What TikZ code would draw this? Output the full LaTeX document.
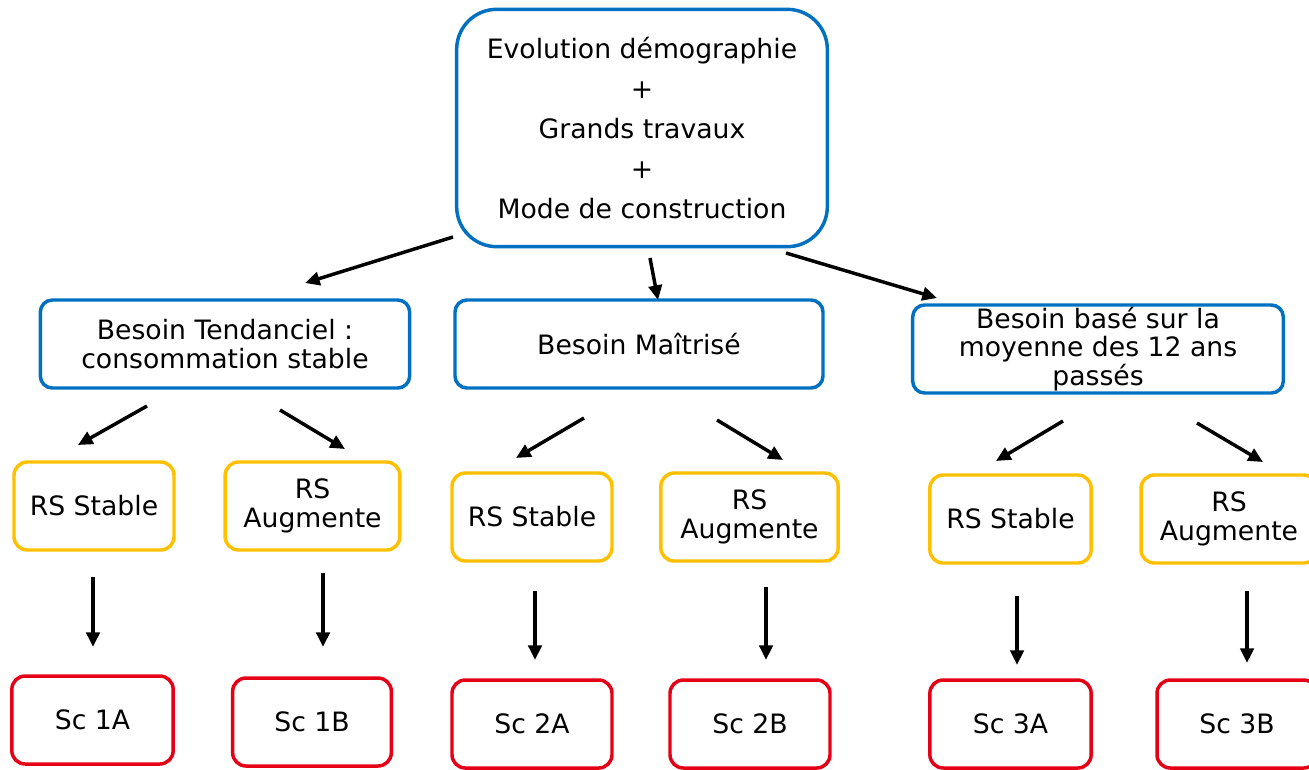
\documentclass[tikz,border=0pt]{standalone}
\usepackage{fontspec}
\setmainfont{DejaVu Sans}
\usetikzlibrary{positioning,calc,arrows.meta}
\definecolor{boxblue}{RGB}{0,112,192}
\definecolor{boxyellow}{RGB}{255,192,0}
\definecolor{boxred}{RGB}{230,0,22}
\tikzset{box/.style={draw, line width=2.6pt, rounded corners=10pt, align=center, inner sep=0pt, font=\fontsize{20}{21.5}\selectfont},
			topbox/.style={box, draw=boxblue, rounded corners=30pt, minimum width=278pt, minimum height=178pt, font=\fontsize{20}{30}\selectfont},
			needbox/.style={box, draw=boxblue, rounded corners=9pt, minimum width=277pt, minimum height=66pt},
			rsbox/.style={box, draw=boxyellow, minimum height=66pt},
			scbox/.style={box, draw=boxred, minimum height=66pt},
			arr/.style={-{Triangle[length=11pt,width=10pt]}, line width=2.6pt}}

\begin{document}
\begin{tikzpicture}[x=0.75pt, y=-0.75pt]

					\useasboundingbox (0,0) rectangle (1309,769);

					\node[topbox] (evo) at (642,128) {Evolution démographie\\+\\Grands travaux\\+\\Mode de construction};

					\node[needbox] (tend) at (225,344) {Besoin Tendanciel :\\consommation stable};
					\node[needbox, minimum width=276pt] (maitr) at (639,344) {Besoin Maîtrisé};
					\node[needbox, minimum width=278pt] (moy) at (1098,349) {Besoin basé sur la\\moyenne des 12 ans\\passés};

					\node[rsbox, minimum width=120pt] (rsa) at (94,506) {RS Stable};
					\node[rsbox, minimum width=131pt] (rsb) at (312.5,506) {RS\\Augmente};
					\node[rsbox, minimum width=120pt] (rsc) at (532,517) {RS Stable};
					\node[rsbox, minimum width=133pt] (rsd) at (749.5,517) {RS\\Augmente};
					\node[rsbox, minimum width=121pt] (rse) at (1010.5,519) {RS Stable};
					\node[rsbox, minimum width=132pt] (rsf) at (1229,519) {RS\\Augmente};

					\node[scbox, minimum width=121pt] (sca) at (92.5,720) {Sc 1A};
					\node[scbox, minimum width=119pt] (scb) at (312,722) {Sc 1B};
					\node[scbox, minimum width=120pt] (scc) at (532,724) {Sc 2A};
					\node[scbox, minimum width=120pt] (scd) at (750,724) {Sc 2B};
					\node[scbox, minimum width=121pt] (sce) at (1010.5,724) {Sc 3A};
					\node[scbox, minimum width=120pt] (scf) at (1237,724) {Sc 3B};

					\draw[arr] ($(evo)+(-189,109)$) -- ($(tend)+(80,-61)$);
					\draw[arr] ($(evo)+(8,130)$) -- ($(maitr)+(19,-44)$);
					\draw[arr] ($(evo)+(144,125)$) -- ($(moy)+(-161,-51)$);

					\draw[arr] ($(tend)+(-78,62)$) -- ($(rsa)+(-16,-61)$);
					\draw[arr] ($(tend)+(55,66)$) -- ($(rsb)+(32.5,-57)$);
					\draw[arr] ($(maitr)+(-55,74)$) -- ($(rsc)+(-16,-59)$);
					\draw[arr] ($(maitr)+(78,76)$) -- ($(rsd)+(33.5,-57)$);
					\draw[arr] ($(moy)+(-35,72)$) -- ($(rse)+(-14.5,-58)$);
					\draw[arr] ($(moy)+(99,74)$) -- ($(rsf)+(34,-57)$);

					\draw[arr] ($(rsa)+(-1,71)$) -- ($(sca)+(0.5,-73)$);
					\draw[arr] ($(rsb)+(10.5,67)$) -- ($(scb)+(11,-75)$);
					\draw[arr] ($(rsc)+(3,74)$) -- ($(scc)+(3,-64)$);
					\draw[arr] ($(rsd)+(16.5,70)$) -- ($(scd)+(16,-64)$);
					\draw[arr] ($(rse)+(6.5,77)$) -- ($(sce)+(6.5,-59)$);
					\draw[arr] ($(rsf)+(18,72)$) -- ($(scf)+(10,-61)$);

\end{tikzpicture}
\end{document}
